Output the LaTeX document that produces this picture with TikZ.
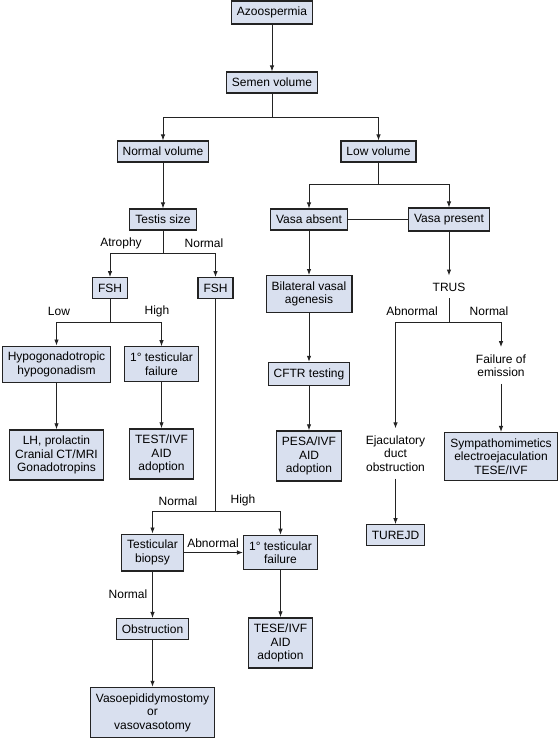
\documentclass[tikz,border=0pt]{standalone}
\usepackage{fontspec}
\setmainfont{Liberation Sans}
\usetikzlibrary{arrows.meta}
\definecolor{boxblue}{RGB}{217,224,239}
\definecolor{inkgray}{RGB}{35,35,35}

\begin{document}
\begin{tikzpicture}[x=1pt,y=-1pt,
        font=\fontsize{12pt}{13.5pt}\selectfont,
        box/.style={draw=inkgray,line width=1.3pt,fill=boxblue,align=center,inner xsep=5.5pt,inner ysep=6pt},
        txt/.style={align=center,inner xsep=2pt,inner ysep=7pt},
        lbl/.style={inner sep=0pt},
        ln/.style={draw=inkgray,line width=0.9pt},
        arr/.style={ln,-{Latex[length=6pt,width=4.5pt]}}]
        \useasboundingbox (0,0) rectangle (558,739);
        \node[box] (azoo) at (272,12.5) {Azoospermia};
        \node[box] (semen) at (272,82.5) {Semen volume};
        \node[box] (normvol) at (163,151.5) {Normal volume};
        \node[box] (lowvol) at (378.5,151.5) {Low volume};
        \node[box] (testis) at (163,219.5) {Testis size};
        \node[box] (vabs) at (309,219.5) {Vasa absent};
        \node[box] (vpres) at (449,219.5) {Vasa present};
        \node[box] (fshA) at (110,288) {FSH};
        \node[box] (fshN) at (215.5,288) {FSH};
        \node[box] (bva) at (309,294) {Bilateral vasal\\agenesis};
        \node[txt] (trus) at (449,287) {TRUS};
        \node[box] (hypo) at (56.5,364.5) {Hypogonadotropic\\hypogonadism};
        \node[box] (ptf1) at (161.5,364) {1° testicular\\failure};
        \node[box] (cftr) at (309,374) {CFTR testing};
        \node[txt] (foe) at (501,365.5) {Failure of\\emission};
        \node[box] (lh) at (56.5,455) {LH, prolactin\\Cranial CT/MRI\\Gonadotropins};
        \node[box] (test) at (161.5,454) {TEST/IVF\\AID\\adoption};
        \node[box] (pesa) at (309,456) {PESA/IVF\\AID\\adoption};
        \node[txt] (ejd) at (395.5,453.5) {Ejaculatory\\duct\\obstruction};
        \node[box] (symp) at (501,456.5) {Sympathomimetics\\electroejaculation\\TESE/IVF};
        \node[box] (turejd) at (395.5,535) {TUREJD};
        \node[box] (biopsy) at (152.5,552.5) {Testicular\\biopsy};
        \node[box] (ptf2) at (280.5,552.5) {1° testicular\\failure};
        \node[box] (obst) at (152.5,629) {Obstruction};
        \node[box] (tese) at (280.5,643) {TESE/IVF\\AID\\adoption};
        \node[box] (vaso) at (152.5,712.5) {Vasoepididymostomy\\or\\vasovasotomy};
        \coordinate (semen-b) at (272,117);
        \coordinate (lowvol-b) at (378.5,184);
        \coordinate (testis-b) at (163,253);
        \coordinate (fshA-b) at (110,322);
        \coordinate (trus-b) at (449,322);
        \coordinate (fshN-b) at (215.5,511);
        \foreach \p/\l/\r in {semen/normvol/lowvol,lowvol/vabs/vpres,testis/fshA/fshN,
            fshA/hypo/ptf1,trus/ejd/foe,fshN/biopsy/ptf2} {
            \draw[ln] (\p) -- (\p-b);
            \draw[arr] (\p-b) -| (\l);
            \draw[arr] (\p-b) -| (\r);
        }
        \foreach \a/\b in {azoo/semen,normvol/testis,vabs/bva,bva/cftr,cftr/pesa,vpres/trus,
            hypo/lh,ptf1/test,foe/symp,ejd/turejd,biopsy/ptf2,biopsy/obst,obst/vaso,ptf2/tese}
            \draw[arr] (\a) -- (\b);
        \draw[ln] (vabs) -- (vpres);
        \foreach \n/\t/\x/\y in {atro/Atrophy/121/243,tnorm/Normal/204/243,low/Low/59/311,
            high/High/157/311,tabn/Abnormal/412/311,tnorm2/Normal/489/311,fnorm/Normal/178/501,
            fhigh/High/243/500,babn/Abnormal/213/543,bnorm/Normal/128/594}
            \node[lbl] (\n) at (\x,\y) {\t};
    \end{tikzpicture}
\end{document}
